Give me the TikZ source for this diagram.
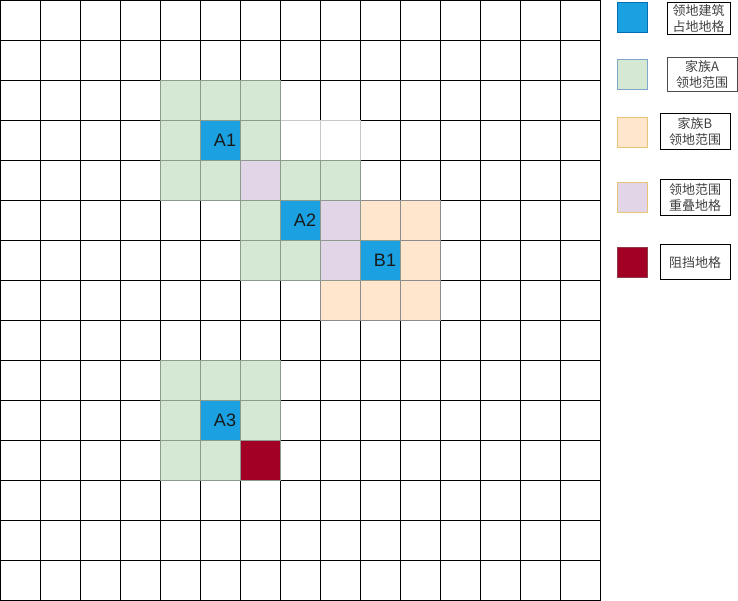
\documentclass[tikz,border=0pt]{standalone}
\usepackage{fontspec}
\setmainfont{Liberation Sans}
\newfontfamily\cjk{Noto Sans CJK SC}
\definecolor{bluef}{HTML}{1BA1E2}
\definecolor{bluel}{HTML}{006EAF}
\definecolor{greenf}{HTML}{D5E8D4}
\definecolor{greenl}{HTML}{7FA7C9}
\definecolor{orangef}{HTML}{FFE6CC}
\definecolor{orangel}{HTML}{E8C477}
\definecolor{purplef}{HTML}{E1D5E7}
\definecolor{redf}{HTML}{A20025}
\definecolor{redl}{HTML}{8F3A4A}
\definecolor{cellgray}{HTML}{8E9A8E}
\tikzset{
  gridline/.style={draw=black, line width=1.2pt},
  whitecell/.style={fill=white, draw=black!22, line width=1pt},
  greencell/.style={fill=greenf, draw=cellgray, line width=1pt},
  orangecell/.style={fill=orangef, draw=black!45, line width=1pt},
  purplecell/.style={fill=purplef, draw=cellgray, line width=1pt},
  bluecell/.style={fill=bluef, draw=cellgray, line width=1pt},
  redcell/.style={fill=redf, draw=cellgray, line width=1pt},
  celllabel/.style={font=\fontsize{18}{20}\selectfont, text=black!90},
  legsq/.style={line width=1pt, minimum width=30pt, minimum height=30pt, inner sep=0pt},
  legtext/.style={draw=black, line width=1pt, font=\cjk\fontsize{13}{16}\selectfont, text=black!75, align=center, inner sep=0pt}
}
\begin{document}
\begin{tikzpicture}[x=1pt,y=-1pt]
\useasboundingbox (0,0) rectangle (738,601);
% grid
\foreach \i in {0,...,15} {
  \draw[gridline] (\i*40+0.6,0) -- (\i*40+0.6,600.4);
  \draw[gridline] (0,\i*40+0.4) -- (600.6,\i*40+0.4);
}
% white cells with light borders
\foreach \c/\r in {7/3,8/3}
  \draw[whitecell] (\c*40+0.6,\r*40+0.4) rectangle ++(40,40);
% green cells
\foreach \c/\r in {4/2,5/2,6/2,4/3,6/3,4/4,5/4,7/4,8/4,6/5,6/6,7/6,4/9,5/9,6/9,4/10,6/10,4/11,5/11}
  \draw[greencell] (\c*40+0.6,\r*40+0.4) rectangle ++(40,40);
% orange cells
\foreach \c/\r in {9/5,10/5,10/6,8/7,9/7,10/7}
  \draw[orangecell] (\c*40+0.6,\r*40+0.4) rectangle ++(40,40);
% purple cells
\foreach \c/\r in {6/4,8/5,8/6}
  \draw[purplecell] (\c*40+0.6,\r*40+0.4) rectangle ++(40,40);
% red cell
\draw[redcell] (6*40+0.6,11*40+0.4) rectangle ++(40,40);
% blue cells with labels
\foreach \c/\r/\t/\n in {5/3/A1/a1,7/5/A2/a2,9/6/B1/b1,5/10/A3/a3} {
  \draw[bluecell] (\c*40+0.6,\r*40+0.4) rectangle ++(40,40);
  \node[celllabel] (\n) at (\c*40+25,\r*40+20.4) {\t};
}
% legend
\node[legsq, fill=bluef, draw=bluel] (l1) at (632,18) {};
\node[legsq, fill=greenf, draw=greenl] (l2) at (632,75) {};
\node[legsq, fill=orangef, draw=orangel] (l3) at (632,132.5) {};
\node[legsq, fill=purplef, draw=orangel] (l4) at (632,197.5) {};
\node[legsq, fill=redf, draw=redl] (l5) at (632,262.5) {};
\node[legtext, minimum width=63pt, minimum height=32pt] (t1) at (698.5,19) {领地建筑\\占地地格};
\node[legtext, draw=black!70, minimum width=70pt, minimum height=34pt] (t2) at (702,75) {家族A\\领地范围};
\node[legtext, minimum width=70pt, minimum height=36pt] (t3) at (695,132) {家族B\\领地范围};
\node[legtext, minimum width=70pt, minimum height=36pt] (t4) at (695,198) {领地范围\\重叠地格};
\node[legtext, minimum width=70pt, minimum height=35pt] (t5) at (695,262.5) {阻挡地格};
\end{tikzpicture}
\end{document}
